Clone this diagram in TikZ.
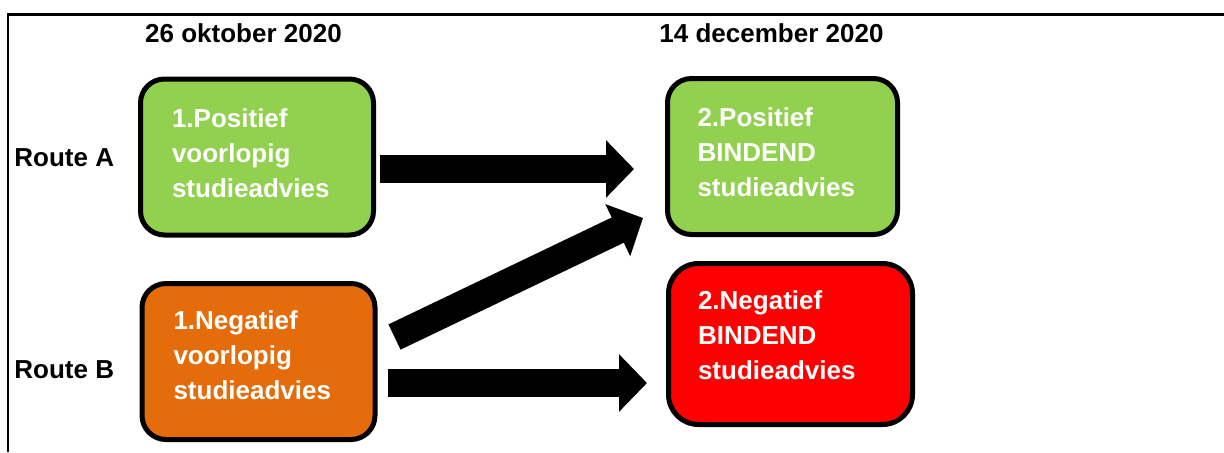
\documentclass[tikz,border=0pt]{standalone}
\usepackage{fontspec}
\setmainfont{Liberation Sans}
\usetikzlibrary{calc}
\usetikzlibrary{arrows.meta}
\usetikzlibrary{positioning}
\definecolor{lichtgroen}{RGB}{146,208,80}
\definecolor{oranje}{RGB}{228,108,10}
\definecolor{felrood}{RGB}{255,0,0}

\tikzset{
  advies/.style={draw=black, line width=2.5pt, rounded corners=12pt,
    minimum width=116.5pt, minimum height=78pt, text width=85pt, align=left,
    text=white, font=\bfseries\fontsize{13}{17.5}\selectfont, tekstop=4pt},
  tekstop/.style={execute at end node={\par\vspace*{#1}}},
  kop/.style={inner sep=0pt, font=\bfseries\fontsize{13}{15}\selectfont},
  pijl/.style={line width=14pt, -{Triangle[length=14pt,width=28pt]}}
}

\begin{document}
\begin{tikzpicture}[x=0.5pt, y=-0.5pt]
            \useasboundingbox (0,0) rectangle (1224,452);
            % kader
            \draw[line width=1.5pt] (7,14) -- (1224,14);
            \draw[line width=1pt]   (8,14) -- (8,452);
            % data en routes
            \node[kop]               (datumA) at (243.5,33) {26 oktober 2020};
            \node[kop]               (datumB) at (771.5,33) {14 december 2020};
            \node[kop, anchor=west]  (routeA) at (14,158)   {Route A};
            \node[kop, anchor=west]  (routeB) at (14,370)   {Route B};
            % adviezen
            \node[advies, fill=lichtgroen]                       (posVoor) at (257,157)   {1.Positief\\voorlopig\\studieadvies};
            \node[advies, fill=lichtgroen, minimum width=115pt] (posBind) at (782.5,156.5) {2.Positief\\BINDEND\\studieadvies};
            \node[advies, fill=oranje, tekstop=2pt]              (negVoor) at (258.5,361.5) {1.Negatief\\voorlopig\\studieadvies};
            \node[advies, fill=felrood, minimum width=122pt, minimum height=80.5pt,
                  text width=92.5pt, rounded corners=15pt, tekstop=5pt] (negBind) at (790.5,344) {2.Negatief\\BINDEND\\studieadvies};
            % pijlen
            \draw[pijl] ($(posVoor.east)+(4,12)$)    -- ($(posBind.west)+(-31,12.5)$);
            \draw[pijl] ($(negVoor.east)+(17,-24.5)$) -- ($(posBind.west)+(-22,61.5)$);
            \draw[pijl] ($(negVoor.east)+(10,21.5)$)  -- ($(negBind.west)+(-19,39)$);
\end{tikzpicture}
\end{document}
